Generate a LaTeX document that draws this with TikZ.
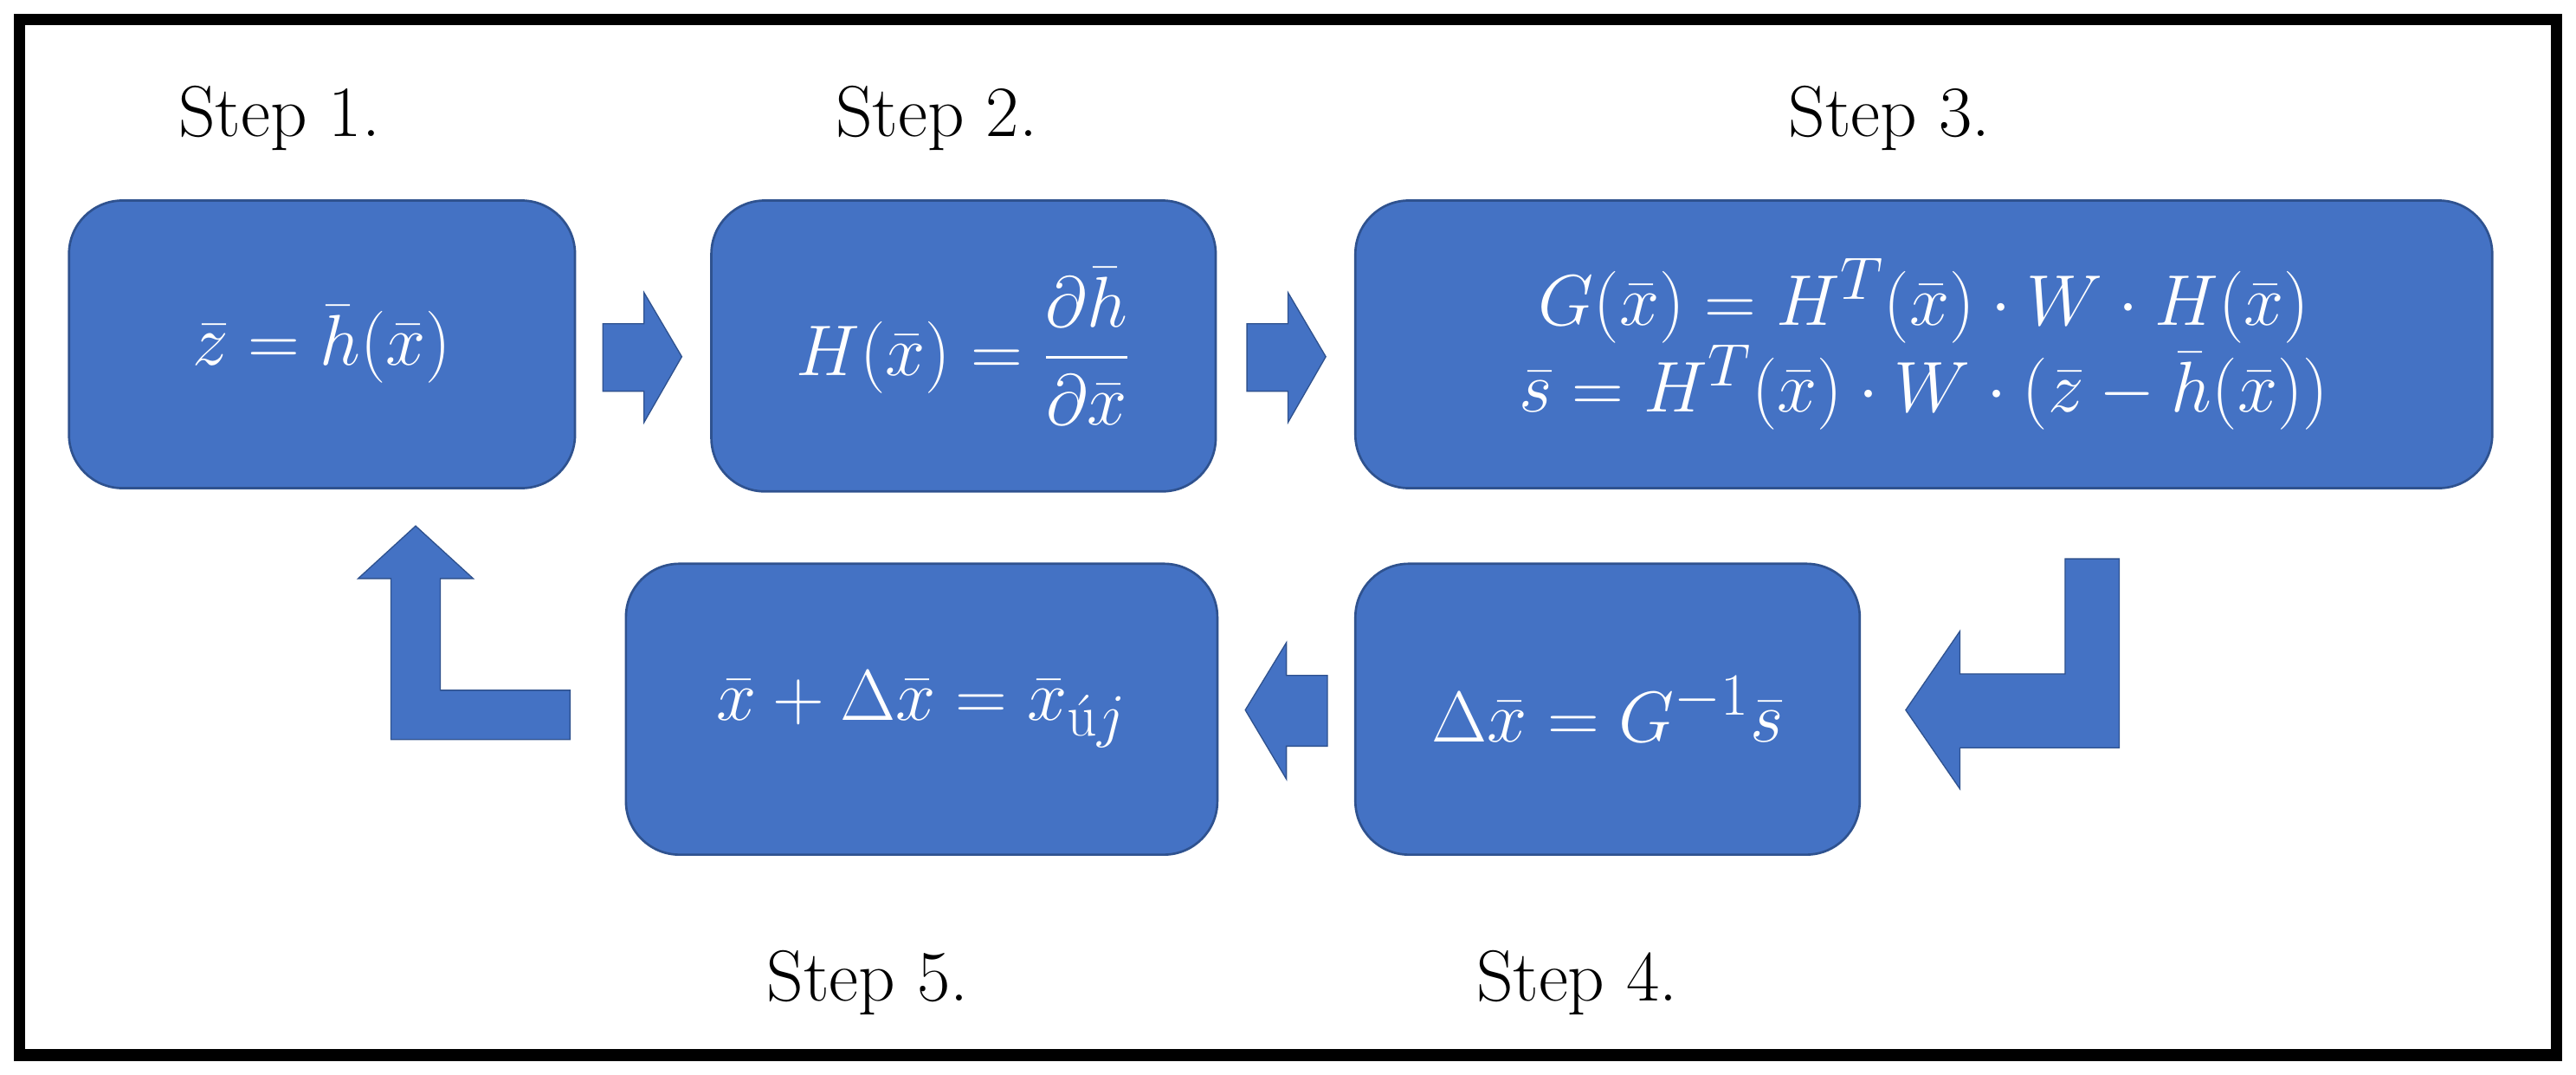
\documentclass[tikz,border=0pt]{standalone}
\usepackage{amsmath}
\definecolor{boxblue}{HTML}{4472C4}
\definecolor{boxedge}{HTML}{2F528F}
\begin{document}
\begin{tikzpicture}[x=0.02cm,y=-0.02cm,
  blk/.style={fill=boxblue,draw=boxedge,line width=0.8pt,rounded corners=0.65cm,text=white,font=\fontsize{29}{34}\selectfont},
  steplbl/.style={font=\fontsize{25}{30}\selectfont},
  blkarrow/.style={fill=boxblue,draw=boxedge,line width=0.4pt}]
\useasboundingbox (0,0) rectangle (1568,654);
\fill[white] (0,0) rectangle (1568,654);
\draw[line width=4pt] (12,12) rectangle (1556,642);
% boxes
\node[blk,minimum width=308*0.02cm,minimum height=175*0.02cm] (b1) at (196,209.5) {$\bar z=\bar h(\bar x)$};
\node[blk,minimum width=307*0.02cm,minimum height=177*0.02cm] (b2) at (586.5,210.5) {$H(\bar x)=\dfrac{\partial\bar h}{\partial\bar x}$};
\node[blk,minimum width=692*0.02cm,minimum height=175*0.02cm,align=center] (b3) at (1171,209.5) {$G(\bar x)=H^T(\bar x)\cdot W\cdot H(\bar x)$\\[-4pt]$\bar s=H^T(\bar x)\cdot W\cdot(\bar z-\bar h(\bar x))$};
\node[blk,minimum width=307*0.02cm,minimum height=177*0.02cm] (b4) at (978.5,431.5) {$\Delta\bar x=G^{-1}\bar s$};
\node[blk,minimum width=360*0.02cm,minimum height=177*0.02cm] (b5) at (561,431.5) {$\bar x+\Delta\bar x=\bar x_{\textnormal{\'u}j}$};
% labels
\node[steplbl] (s1) at (170,72) {Step 1.};
\node[steplbl] (s2) at (570,72) {Step 2.};
\node[steplbl] (s3) at (1150,72) {Step 3.};
\node[steplbl] (s5) at (528,598) {Step 5.};
\node[steplbl] (s4) at (960,598) {Step 4.};
% block arrows
\draw[blkarrow] (367,197)--(392,197)--(392,178)--(415,217)--(392,257)--(392,238)--(367,238)--cycle;
\draw[blkarrow] (759,197)--(784,197)--(784,178)--(807,217)--(784,257)--(784,238)--(759,238)--cycle;
\draw[blkarrow] (808,411)--(783,411)--(783,391)--(758,432)--(783,474)--(783,454)--(808,454)--cycle;
\draw[blkarrow] (1257,340)--(1290,340)--(1290,455)--(1193,455)--(1193,480)--(1160,432)--(1193,384)--(1193,410)--(1257,410)--cycle;
\draw[blkarrow] (347,420)--(347,450)--(238,450)--(238,352)--(218,352)--(253,320)--(288,352)--(268,352)--(268,420)--cycle;
\end{tikzpicture}
\end{document}
